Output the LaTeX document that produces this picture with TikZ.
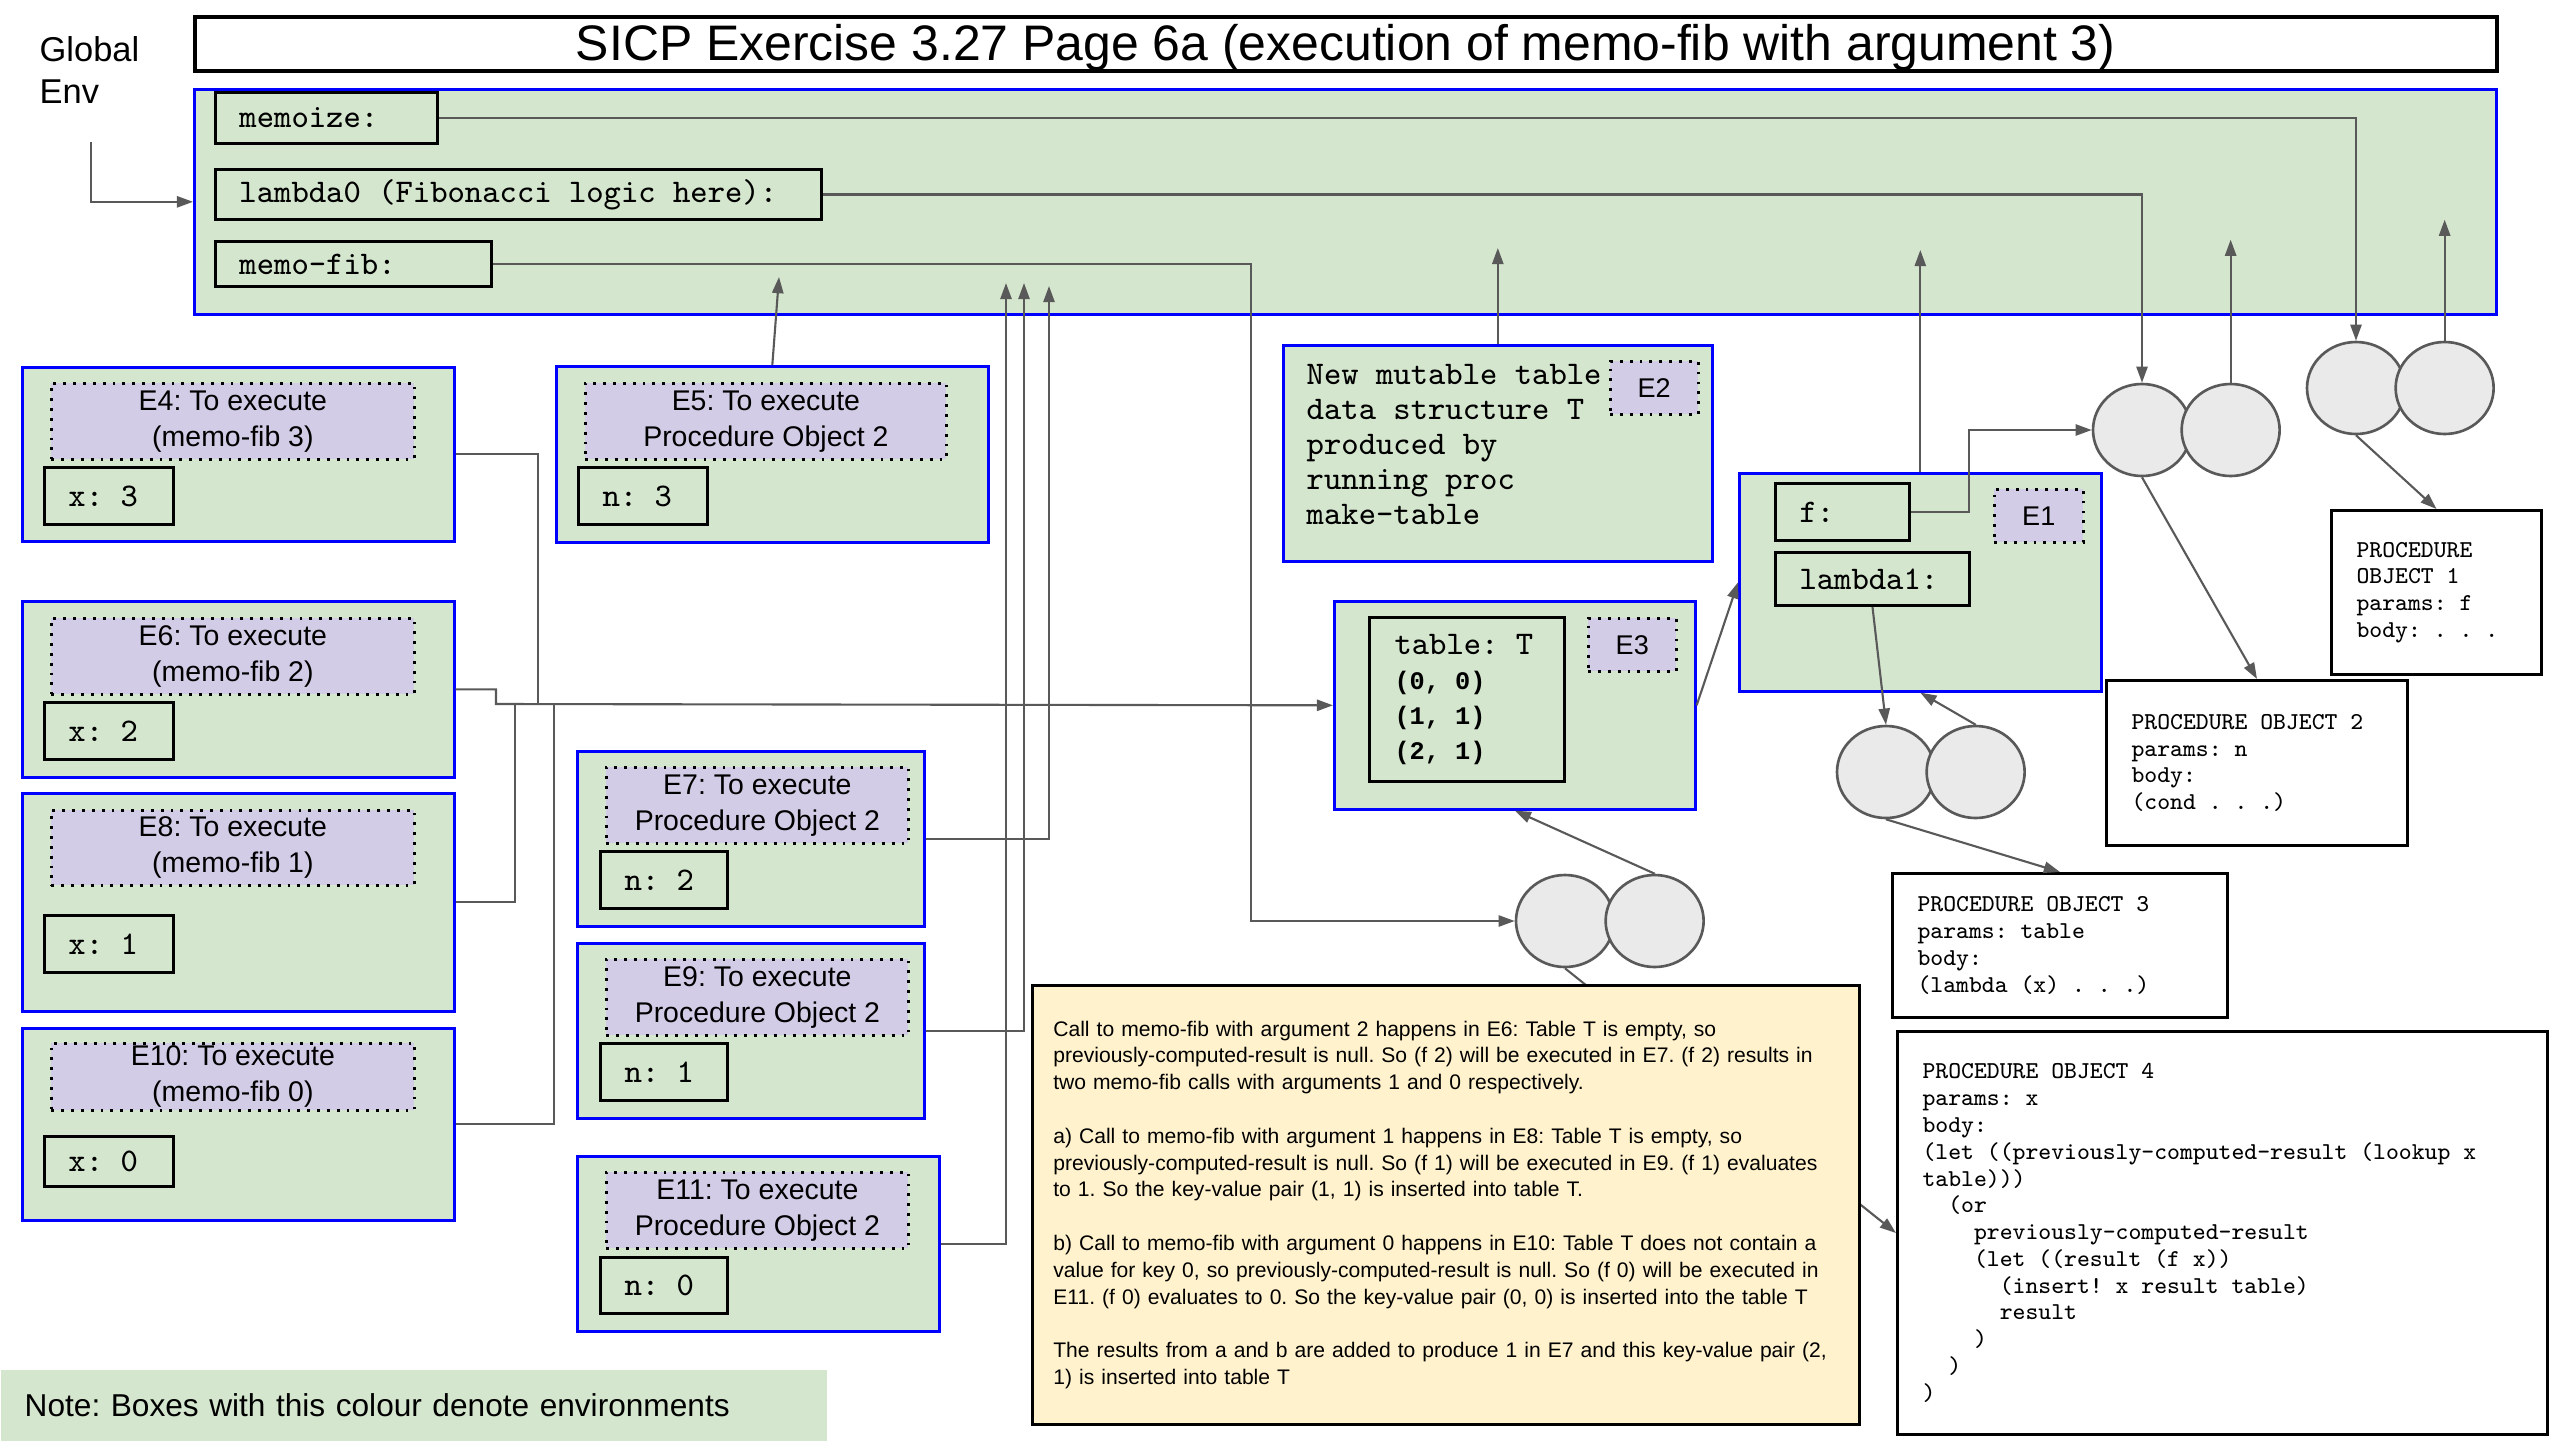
\documentclass[tikz,border=0pt]{standalone}
\usepackage{fontspec}
\setmainfont{Liberation Sans}
\newfontfamily\pairmono{Liberation Mono}
\usepackage{tikz}
\usetikzlibrary{arrows.meta, positioning, shapes.geometric}
\definecolor{envgreen}{RGB}{213, 230, 206}
\definecolor{envblue}{RGB}{0, 0, 255}
\definecolor{tagpurple}{RGB}{210, 204, 230}
\definecolor{notefill}{RGB}{255, 242, 204}
\definecolor{cellfill}{RGB}{234, 234, 234}
\definecolor{linegray}{RGB}{89, 89, 89}
\newcommand{\bindfont}{\ttfamily\fontsize{9.4}{9.96}\selectfont}
\newcommand{\pairfont}{\pairmono\bfseries\fontsize{7.2}{9.96}\selectfont\spaceskip=\fontcharwd\font`x\relax}
\newcommand{\tagfont}{\fontsize{8.1}{10.24}\selectfont}
\newcommand{\procfont}{\ttfamily\fontsize{6.9}{7.62}\selectfont}
\newcommand{\calltextfont}{\fontsize{6.0}{7.62}\selectfont}
\newcommand{\monospaces}{\spaceskip=\fontcharwd\font`x\relax}

\begin{document}
\frenchspacing
\begin{tikzpicture}[x=1cm, y=-1cm, >={Triangle[length=4.6pt,width=3.2pt]},
    envframe/.style={draw=envblue, fill=envgreen, line width=0.75pt, anchor=north west, inner sep=0pt},
    envtag/.style={draw=black, dotted, fill=tagpurple, line width=0.8pt, inner sep=0pt, align=center, font=\tagfont},
    bindbox/.style={draw=black, line width=0.85pt, inner xsep=0.24cm, inner ysep=0pt, align=flush left, font=\bindfont, execute at begin node=\monospaces},
    procbox/.style={draw=black, fill=white, line width=0.85pt, anchor=north west, inner xsep=0.25cm, inner ysep=0pt, align=flush left, font=\procfont, execute at begin node=\monospaces},
    cell/.style={ellipse, draw=linegray, fill=cellfill, line width=0.75pt, minimum width=0.98cm, minimum height=0.92cm, inner sep=0pt},
    conn/.style={draw=linegray, line width=0.6pt}]
    \useasboundingbox (0,0) rectangle (25.6,14.4);

    % title and global environment
    \node [anchor=north west, inner sep=0pt, align=left, font=\fontsize{9.8}{12}\selectfont] (genv) at (0.39,0.36) {Global\\Env};
    \coordinate (genvfoot) at (0.91,1.42);
    \node [draw=black, fill=white, line width=1pt, anchor=north west, minimum width=23.02cm, minimum height=0.54cm, inner sep=0pt, text height=0.44cm, text depth=0.10cm, font=\fontsize{14.2}{16}\selectfont] (title) at (1.93,0.15) {SICP Exercise 3.27 Page 6a (execution of memo-fib with argument 3)};
    \node [envframe, minimum width=23.02cm, minimum height=2.25cm] (global) at (1.93,0.88) {};
    \node [bindbox, text width=1.74cm, minimum height=0.51cm, below right=0.03cm and 0.21cm of global.north west] (memoize) {memoize:};
    \node [bindbox, text width=5.58cm, minimum height=0.50cm, below right=0.80cm and 0.21cm of global.north west] (lambda0) {lambda0 (Fibonacci logic here):};
    \node [bindbox, text width=2.28cm, minimum height=0.45cm, below right=1.52cm and 0.21cm of global.north west] (memofib) {memo-fib:};

    % environments for memo-fib calls
    \node [envframe, minimum width=4.32cm, minimum height=1.74cm] (e4) at (0.21,3.66) {};
    \node [envtag, minimum width=3.63cm, minimum height=0.76cm, below right=0.16cm and 0.29cm of e4.north west] (e4tag) {E4: To execute\\(memo-fib 3)};
    \node [bindbox, text width=0.81cm, minimum height=0.57cm, below right=1.00cm and 0.22cm of e4.north west] (e4x) {x: 3};

    \node [envframe, minimum width=4.32cm, minimum height=1.76cm] (e6) at (0.21,6.00) {};
    \node [envtag, minimum width=3.63cm, minimum height=0.76cm, below right=0.17cm and 0.29cm of e6.north west] (e6tag) {E6: To execute\\(memo-fib 2)};
    \node [bindbox, text width=0.81cm, minimum height=0.57cm, below right=1.01cm and 0.22cm of e6.north west] (e6x) {x: 2};

    \node [envframe, minimum width=4.32cm, minimum height=2.18cm] (e8) at (0.21,7.92) {};
    \node [envtag, minimum width=3.63cm, minimum height=0.75cm, below right=0.17cm and 0.29cm of e8.north west] (e8tag) {E8: To execute\\(memo-fib 1)};
    \node [bindbox, text width=0.81cm, minimum height=0.57cm, below right=1.22cm and 0.22cm of e8.north west] (e8x) {x: 1};

    \node [envframe, minimum width=4.32cm, minimum height=1.92cm] (e10) at (0.21,10.27) {};
    \node [envtag, minimum width=3.63cm, minimum height=0.67cm, below right=0.15cm and 0.29cm of e10.north west] (e10tag) {E10: To execute\\(memo-fib 0)};
    \node [bindbox, text width=0.81cm, minimum height=0.50cm, below right=1.08cm and 0.22cm of e10.north west] (e10x) {x: 0};

    % environments for procedure object 2
    \node [envframe, minimum width=4.32cm, minimum height=1.76cm] (e5) at (5.55,3.65) {};
    \node [envtag, minimum width=3.61cm, minimum height=0.76cm, below right=0.17cm and 0.29cm of e5.north west] (e5tag) {E5: To execute\\Procedure Object 2};
    \node [bindbox, text width=0.81cm, minimum height=0.57cm, below right=1.01cm and 0.22cm of e5.north west] (e5n) {n: 3};

    \node [envframe, minimum width=3.47cm, minimum height=1.75cm] (e7) at (5.76,7.50) {};
    \node [envtag, minimum width=3.02cm, minimum height=0.76cm, below right=0.16cm and 0.29cm of e7.north west] (e7tag) {E7: To execute\\Procedure Object 2};
    \node [bindbox, text width=0.79cm, minimum height=0.57cm, below right=1.00cm and 0.23cm of e7.north west] (e7n) {n: 2};

    \node [envframe, minimum width=3.47cm, minimum height=1.75cm] (e9) at (5.76,9.42) {};
    \node [envtag, minimum width=3.02cm, minimum height=0.76cm, below right=0.16cm and 0.29cm of e9.north west] (e9tag) {E9: To execute\\Procedure Object 2};
    \node [bindbox, text width=0.79cm, minimum height=0.57cm, below right=1.00cm and 0.23cm of e9.north west] (e9n) {n: 1};

    \node [envframe, minimum width=3.62cm, minimum height=1.75cm] (e11) at (5.76,11.55) {};
    \node [envtag, minimum width=3.02cm, minimum height=0.76cm, below right=0.16cm and 0.29cm of e11.north west] (e11tag) {E11: To execute\\Procedure Object 2};
    \node [bindbox, text width=0.79cm, minimum height=0.56cm, below right=1.01cm and 0.23cm of e11.north west] (e11n) {n: 0};

    % E2, E3, E1
    \node [envframe, minimum width=4.29cm, minimum height=2.16cm] (e2) at (12.82,3.44) {};
    \node [anchor=north west, inner sep=0pt, align=left, font=\bindfont, below right=0.20cm and 0.24cm of e2.north west] (e2text) {New mutable table\\data structure T\\produced by\\running proc\\make-table};
    \node [envtag, font=\fontsize{7.7}{9}\selectfont, minimum width=0.88cm, minimum height=0.53cm, below left=0.16cm and 0.14cm of e2.north east] (e2tag) {E2};

    \node [envframe, minimum width=3.61cm, minimum height=2.08cm] (e3) at (13.33,6.00) {};
    \node [bindbox, inner xsep=0.25cm, text width=1.45cm, minimum height=1.64cm, below right=0.16cm and 0.35cm of e3.north west] (table) {table: T\\{\pairfont (0, 0)}\\{\pairfont (1, 1)}\\{\pairfont (2, 1)}};
    \node [envtag, font=\fontsize{7.7}{9}\selectfont, minimum width=0.88cm, minimum height=0.53cm, below left=0.17cm and 0.19cm of e3.north east] (e3tag) {E3};

    \node [envframe, minimum width=3.62cm, minimum height=2.18cm] (e1) at (17.38,4.72) {};
    \node [bindbox, text width=0.86cm, minimum height=0.57cm, below right=0.10cm and 0.36cm of e1.north west] (fbox) {f:};
    \node [bindbox, text width=1.46cm, minimum height=0.53cm, below right=0.79cm and 0.36cm of e1.north west] (lambda1) {lambda1:};
    \node [envtag, font=\fontsize{7.7}{9}\selectfont, minimum width=0.89cm, minimum height=0.53cm, below left=0.16cm and 0.18cm of e1.north east] (e1tag) {E1};

    % procedure objects
    \node [procbox, text width=1.60cm, minimum height=1.64cm] (po1) at (23.30,5.09) {PROCEDURE\\OBJECT 1\\params: f\\body: . . .};
    \node [procbox, text width=2.51cm, minimum height=1.65cm] (po2) at (21.05,6.79) {PROCEDURE OBJECT 2\\params: n\\body:\\(cond . . .)};
    \node [procbox, text width=2.85cm, minimum height=1.44cm] (po3) at (18.91,8.72) {PROCEDURE OBJECT 3\\params: table\\body:\\(lambda (x) . . .)};
    \node [procbox, text width=6.00cm, minimum height=4.03cm] (po4) at (18.96,10.30) {PROCEDURE OBJECT 4\\params: x\\body:\\(let ((previously-computed-result (lookup x\\table)))\\\phantom{xx}(or\\\phantom{xxxx}previously-computed-result\\\phantom{xxxx}(let ((result (f x))\\\phantom{xxxxxx}(insert! x result table)\\\phantom{xxxxxx}result\\\phantom{xxxx})\\\phantom{xx})\\)};

    % pairs
    \node [cell] (p4l) at (23.56,3.88) {};
    \node [cell, right=-0.12cm of p4l] (p4r) {};
    \node [cell] (p2l) at (21.42,4.30) {};
    \node [cell, right=-0.12cm of p2l] (p2r) {};
    \node [cell] (p1l) at (18.86,7.72) {};
    \node [cell, right=-0.11cm of p1l] (p1r) {};
    \node [cell] (p3l) at (15.65,9.21) {};
    \node [cell, right=-0.11cm of p3l] (p3r) {};

    % pointers
    \draw [conn, ->] (genvfoot) |- (global.west);
    \draw [conn, ->] (memoize.east) -| (p4l.north);
    \draw [conn, ->] (lambda0.east) -| (p2l.north);
    \draw [conn, ->] (memofib.east) -| (12.51,9.21) -- (p3l.west);
    \draw [conn, ->] (p2r.north) -- ++(0,-1.43);
    \draw [conn, ->] (p4r.north) -- ++(0,-1.21);
    \draw [conn, ->] (e1.north) -- ++(0,-2.22);
    \draw [conn, ->] (e2.north) -- ++(0,-0.96);
    \draw [conn, ->] (e5.north) -- (7.79,2.77);
    \draw [conn, ->] (e7.east) -| (10.49,2.86);
    \draw [conn, ->] (e9.east) -| (10.24,2.83);
    \draw [conn, ->] (e11.east) -| (10.06,2.83);
    \draw [conn] (e4.east) -| (5.38,7.04);
    \draw [conn] (e8.east) -| (5.15,7.04);
    \draw [conn] (e10.east) -| (5.54,7.04);
    \draw [conn, ->] (e6.east) -| (4.96,7.04) -- (e3.west);
    \draw [conn, ->] (e3.east) -- (e1.west);
    \draw [conn, ->] (fbox.east) -- ++(0.58,0) |- (p2l.west);
    \draw [conn, ->] (lambda1.south) -- (p1l.north);
    \draw [conn, ->] (p1r.north) -- (e1.south);
    \draw [conn, ->] (p1l.south) -- (po3.north);
    \draw [conn, ->] (p2l.south) -- (po2.north);
    \draw [conn, ->] (p4l.south) -- (po1.north);
    \draw [conn, ->] (p3r.north) -- (e3.south);
    \draw [conn, ->] (p3l.south) -- (po4.west);

    % explanation and legend
    \node [draw=black, fill=notefill, line width=0.75pt, anchor=north west, minimum width=8.27cm, minimum height=4.39cm, inner xsep=0.21cm, text width=7.85cm, align=left, font=\calltextfont] (calls) at (10.31,9.84) {Call to memo-fib with argument 2 happens in E6: Table T is empty, so\\
previously-computed-result is null. So (f 2) will be executed in E7. (f 2) results in\\
two memo-fib calls with arguments 1 and 0 respectively.\\[7.62pt]
a) Call to memo-fib with argument 1 happens in E8: Table T is empty, so\\
previously-computed-result is null. So (f 1) will be executed in E9. (f 1) evaluates\\
to 1. So the key-value pair (1, 1) is inserted into table T.\\[7.62pt]
b) Call to memo-fib with argument 0 happens in E10: Table T does not contain a\\
value for key 0, so previously-computed-result is null. So (f 0) will be executed in\\
E11. (f 0) evaluates to 0. So the key-value pair (0, 0) is inserted into the table T\\[7.62pt]
The results from a and b are added to produce 1 in E7 and this key-value pair (2,\\
1) is inserted into table T};
    \node [fill=envgreen, anchor=north west, minimum width=8.26cm, minimum height=0.71cm, inner xsep=0.24cm, inner ysep=0pt, text width=7.78cm, align=left, font=\fontsize{9}{10}\selectfont] (legend) at (0,13.69) {Note: Boxes with this colour denote environments};
\end{tikzpicture}
\end{document}
